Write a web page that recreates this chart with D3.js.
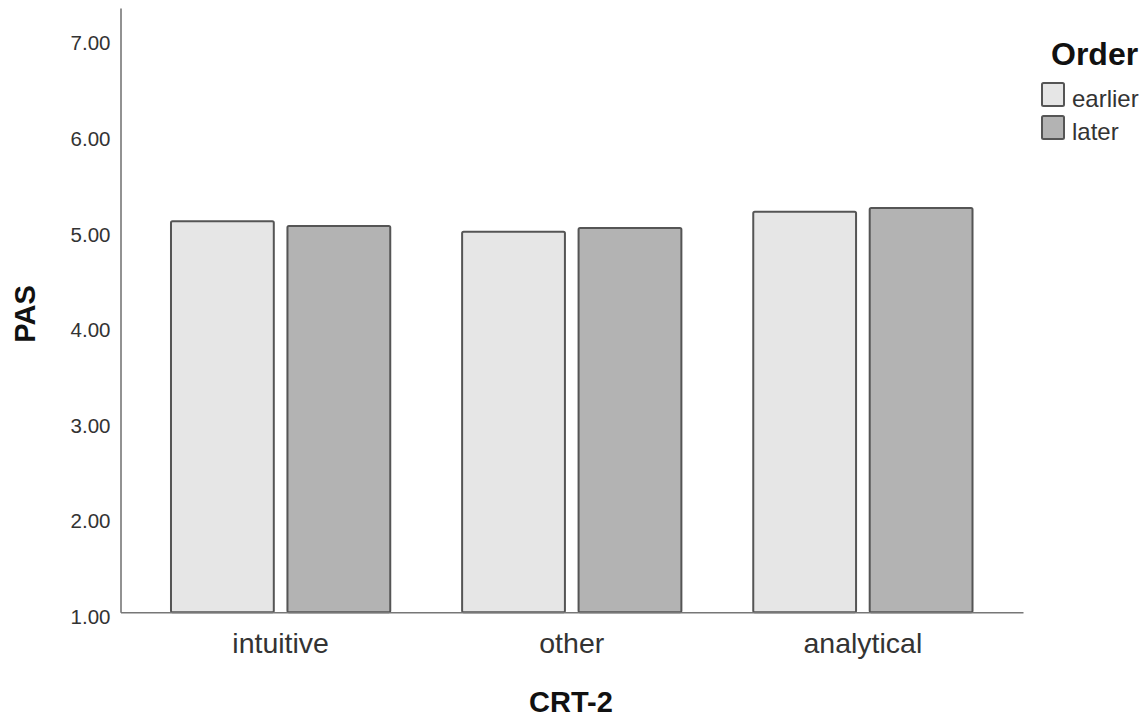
<!DOCTYPE html>
<html>
<head>
<meta charset="utf-8">
<script src="https://cdn.jsdelivr.net/npm/d3@7"></script>
<style>
  html, body { margin: 0; padding: 0; background: #fff; }
  svg { display: block; font-family: "Liberation Sans", Arial, sans-serif; }
</style>
</head>
<body>
<svg id="chart" width="1148" height="719"></svg>
<script>
const categories = ["intuitive", "other", "analytical"];
const orders = ["earlier", "later"];
const earlierValues = [5.10, 4.99, 5.20];
const laterValues = [5.05, 5.03, 5.24];
const yTicks = [1, 2, 3, 4, 5, 6, 7];
const colors = ["#e6e6e6", "#b3b3b3"];

(function () {
const svg = d3.select("#chart");
const mLeft = 120.5, mRight = 1023, mTop = 8, mBottom = 612.3;

const y = d3.scaleLinear().domain([1, 7.32]).range([mBottom, mTop]);
const x0 = d3.scaleBand().domain(categories).range([mLeft, mRight]).paddingInner(0).paddingOuter(0.05);
const x1 = d3.scaleBand().domain(orders).range([0, x0.bandwidth()]).paddingInner(0.1).paddingOuter(0.3);
const color = d3.scaleOrdinal().domain(orders).range(colors);

const data = categories.map((c, i) => ({
  cat: c,
  vals: [{ order: "earlier", v: earlierValues[i] }, { order: "later", v: laterValues[i] }]
}));

// bars
const g = svg.append("g");
g.selectAll("g.cat").data(data).join("g")
  .attr("class", "cat")
  .attr("transform", d => `translate(${x0(d.cat)},0)`)
  .selectAll("rect").data(d => d.vals).join("rect")
  .attr("x", d => x1(d.order) + 1)
  .attr("width", x1.bandwidth() - 2)
  .attr("y", d => y(d.v) + 1)
  .attr("height", d => y(1) - y(d.v) - 1)
  .attr("rx", 1.5)
  .attr("fill", d => color(d.order))
  .attr("stroke", "#555")
  .attr("stroke-width", 2);

// y axis
const yAxis = svg.append("g")
  .attr("transform", `translate(${mLeft},0)`)
  .call(d3.axisLeft(y).tickValues(yTicks).tickFormat(d3.format(".2f")).tickSize(0).tickSizeOuter(0).tickPadding(10));
yAxis.select(".domain").attr("stroke", "#777").attr("stroke-width", 1.6);
yAxis.selectAll("text")
  .attr("font-size", 20.5)
  .attr("fill", "#333")
  .attr("font-family", "'Liberation Sans', Arial, sans-serif")
  .attr("dy", "0.55em");

// x axis
const xAxis = svg.append("g")
  .attr("transform", `translate(0,${mBottom})`)
  .call(d3.axisBottom(x0).tickSize(0).tickSizeOuter(0).tickPadding(20));
xAxis.select(".domain").attr("stroke", "#777").attr("stroke-width", 1.6);
xAxis.selectAll("text")
  .attr("font-size", 28.5)
  .attr("fill", "#333")
  .attr("font-family", "'Liberation Sans', Arial, sans-serif");

// axis titles
svg.append("text")
  .attr("x", 571).attr("y", 712)
  .attr("text-anchor", "middle")
  .attr("font-size", 29).attr("font-weight", "bold").attr("fill", "#111")
  .text("CRT-2");
svg.append("text")
  .attr("transform", "translate(35,314) rotate(-90)")
  .attr("text-anchor", "middle")
  .attr("font-size", 29).attr("font-weight", "bold").attr("fill", "#111")
  .text("PAS");

// legend
const legend = svg.append("g");
legend.append("text")
  .attr("x", 1051).attr("y", 65)
  .attr("font-size", 32).attr("font-weight", "bold").attr("fill", "#111")
  .text("Order");
const items = legend.selectAll("g.item").data(orders).join("g")
  .attr("class", "item")
  .attr("transform", (d, i) => `translate(1042,${83 + i * 33})`);
items.append("rect")
  .attr("width", 22).attr("height", 23).attr("rx", 1.5)
  .attr("fill", d => color(d)).attr("stroke", "#555").attr("stroke-width", 2);
items.append("text")
  .attr("x", 30).attr("y", 23.5)
  .attr("font-size", 24).attr("fill", "#333")
  .text(d => d);
})();
</script>
</body>
</html>
